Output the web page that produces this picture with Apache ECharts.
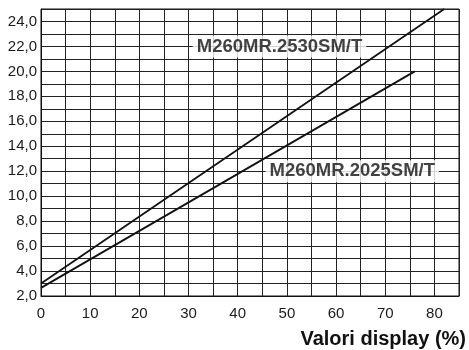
<!DOCTYPE html>
<html><head><meta charset="utf-8">
<script src="https://cdn.jsdelivr.net/npm/echarts@6/dist/echarts.min.js"></script>
<style>html,body{margin:0;padding:0;background:#fff}#c{width:469px;height:350px}</style>
</head><body><div id="c"></div>
<script>
const seriesNames = ['M260MR.2530SM/T', 'M260MR.2025SM/T'];
const line2530 = [[0, 3.0], [82, 25.0]];
const line2025 = [[0, 2.65], [76, 20.0]];
const labelPos2530 = [[48.5, 22]];
const labelPos2025 = [[63.3, 12]];
const xTitle = 'Valori display (%)';

const chart = echarts.init(document.getElementById('c'));
const labelStyle = {
  show: true, position: 'inside', formatter: p => p.seriesName,
  fontFamily: 'Liberation Sans, Arial', fontWeight: 'bold', fontSize: 18.5,
  color: '#111', backgroundColor: '#fff', padding: [2, 4, 1, 4]
};
chart.setOption({
  animation: false,
  grid: { left: 41, right: 8, top: 9, bottom: 54, show: true, borderColor: '#111', borderWidth: 1 },
  xAxis: {
    type: 'value', min: 0, max: 85, interval: 5,
    name: xTitle, nameLocation: 'end', nameGap: 7,
    nameTextStyle: { fontFamily: 'Liberation Sans, Arial', fontWeight: 'bold', fontSize: 20, color: '#111', align: 'right', verticalAlign: 'top', padding: [33, 0, 0, 0] },
    axisLine: { lineStyle: { color: '#111' } },
    axisTick: { show: false },
    axisLabel: { fontFamily: 'Liberation Sans, Arial', fontSize: 15, color: '#1a1a1a', margin: 10,
      formatter: v => (v % 10 === 0 && v <= 80) ? String(v) : '' },
    splitLine: { show: true, lineStyle: { color: '#222', width: 1 } }
  },
  yAxis: {
    type: 'value', min: 2, max: 25, interval: 1,
    axisLine: { lineStyle: { color: '#111' } },
    axisTick: { show: false },
    axisLabel: { fontFamily: 'Liberation Sans, Arial', fontSize: 15, color: '#1a1a1a', margin: 4,
      formatter: v => (v % 2 === 0) ? v.toFixed(1).replace('.', ',') : '' },
    splitLine: { show: true, lineStyle: { color: '#222', width: 1 } }
  },
  series: [
    { name: seriesNames[0], type: 'line', data: line2530, symbol: 'none', lineStyle: { color: '#111', width: 1.8 }, z: 3 },
    { name: seriesNames[1], type: 'line', data: line2025, symbol: 'none', lineStyle: { color: '#111', width: 1.8 }, z: 3 },
    { name: seriesNames[0], type: 'scatter', data: labelPos2530, symbolSize: 0, label: labelStyle, z: 5 },
    { name: seriesNames[1], type: 'scatter', data: labelPos2025, symbolSize: 0, label: labelStyle, z: 5 }
  ]
});
</script></body></html>
